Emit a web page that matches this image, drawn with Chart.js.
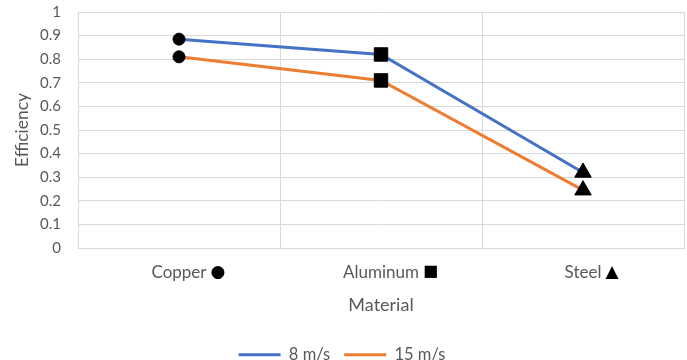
<!DOCTYPE html>
<html>
<head>
<meta charset="utf-8">
<script src="https://cdn.jsdelivr.net/npm/chart.js@4/dist/chart.umd.min.js"></script>
<style>
  html, body { margin: 0; padding: 0; background: #ffffff; }
  #c { display: block; }
</style>
</head>
<body>
<canvas id="c" width="687" height="360"></canvas>
<script>
// Categories and the marker symbol that follows each category name
const materials = ['Copper', 'Aluminum', 'Steel'];
const materialSymbols = ['●', '■', '▲'];
const markerStyles = ['circle', 'rect', 'triangle'];
const markerSizes = [6, 9.5, 9.5];

// Efficiency per material at two wind speeds
const seriesNames = ['8 m/s', '15 m/s'];
const eff8 = [0.885, 0.82, 0.32];
const eff15 = [0.81, 0.71, 0.245];

const seriesColors = ['#4472C4', '#ED7D31'];
const textColor = '#595959';
const gridColor = '#d9d9d9';
const fontFamily = 'Lato, "Open Sans", sans-serif';
const labelFont = { family: fontFamily, size: 17 };
const symbolFonts = ['17px "DejaVu Sans"', '16px "DejaVu Sans"', '17px "DejaVu Sans"'];

function seriesDataset(label, values, color) {
  return {
    label: label,
    data: values,
    borderColor: color,
    backgroundColor: color,
    borderWidth: 3,
    tension: 0,
    pointStyle: markerStyles,
    pointRadius: markerSizes,
    pointHoverRadius: markerSizes,
    pointBackgroundColor: '#000000',
    pointBorderColor: '#000000',
    pointBorderWidth: 1
  };
}

// Draws the black marker symbol just after each category name
const categorySymbols = {
  id: 'categorySymbols',
  afterDraw(chart) {
    const xs = chart.scales.x;
    const ctx = chart.ctx;
    ctx.save();
    ctx.textBaseline = 'middle';
    ctx.textAlign = 'left';
    ctx.fillStyle = '#000000';
    materials.forEach((name, i) => {
      ctx.font = labelFont.size + 'px ' + labelFont.family;
      const w = ctx.measureText(name).width;
      const cx = xs.getPixelForTick(i);
      const cy = xs.top + xs.options.ticks.padding + labelFont.size * 0.6;
      ctx.font = symbolFonts[i];
      ctx.fillText(materialSymbols[i], cx + w / 2 + 4, cy);
    });
    ctx.restore();
  }
};

new Chart(document.getElementById('c'), {
  type: 'line',
  data: {
    labels: materials,
    datasets: [
      seriesDataset(seriesNames[0], eff8, seriesColors[0]),
      seriesDataset(seriesNames[1], eff15, seriesColors[1])
    ]
  },
  plugins: [categorySymbols],
  options: {
    responsive: false,
    animation: false,
    devicePixelRatio: 1,
    events: [],
    layout: { autoPadding: false, padding: { top: 0, right: 3, left: 0, bottom: -13 } },
    plugins: {
      tooltip: { enabled: false },
      legend: {
        position: 'bottom',
        labels: {
          usePointStyle: true,
          pointStyle: 'line',
          pointStyleWidth: 42,
          padding: 14,
          color: textColor,
          font: { family: fontFamily, size: 16.5 },
          generateLabels: function (chart) {
            return chart.data.datasets.map((ds, i) => ({
              text: ds.label,
              strokeStyle: seriesColors[i],
              fillStyle: seriesColors[i],
              lineWidth: 3,
              pointStyle: 'line',
              fontColor: textColor,
              datasetIndex: i
            }));
          }
        }
      }
    },
    scales: {
      x: {
        type: 'category',
        offset: true,
        grid: { offset: true, color: gridColor, lineWidth: 1, drawTicks: false },
        border: { color: gridColor, width: 1 },
        ticks: { padding: 14, color: textColor, font: labelFont },
        title: {
          display: true,
          text: 'Material',
          color: textColor,
          font: { family: fontFamily, size: 18 },
          padding: { top: 12, bottom: 17 }
        },
        afterFit: function (scale) { scale.height = 84.5; }
      },
      y: {
        min: 0,
        max: 1,
        grid: {
          color: gridColor,
          lineWidth: 1,
          drawTicks: true,
          tickLength: 14,
          tickColor: 'rgba(0,0,0,0)'
        },
        border: { color: gridColor, width: 1 },
        ticks: {
          stepSize: 0.1,
          padding: 3,
          color: textColor,
          font: { family: fontFamily, size: 15 },
          callback: function (v) { return String(Math.round(v * 10) / 10); }
        },
        title: {
          display: true,
          text: 'Efficiency',
          color: textColor,
          font: { family: fontFamily, size: 17.5 },
          padding: { top: 12, bottom: 0 }
        },
        afterFit: function (scale) { scale.width = 78; }
      }
    }
  }
});
</script>
</body>
</html>
